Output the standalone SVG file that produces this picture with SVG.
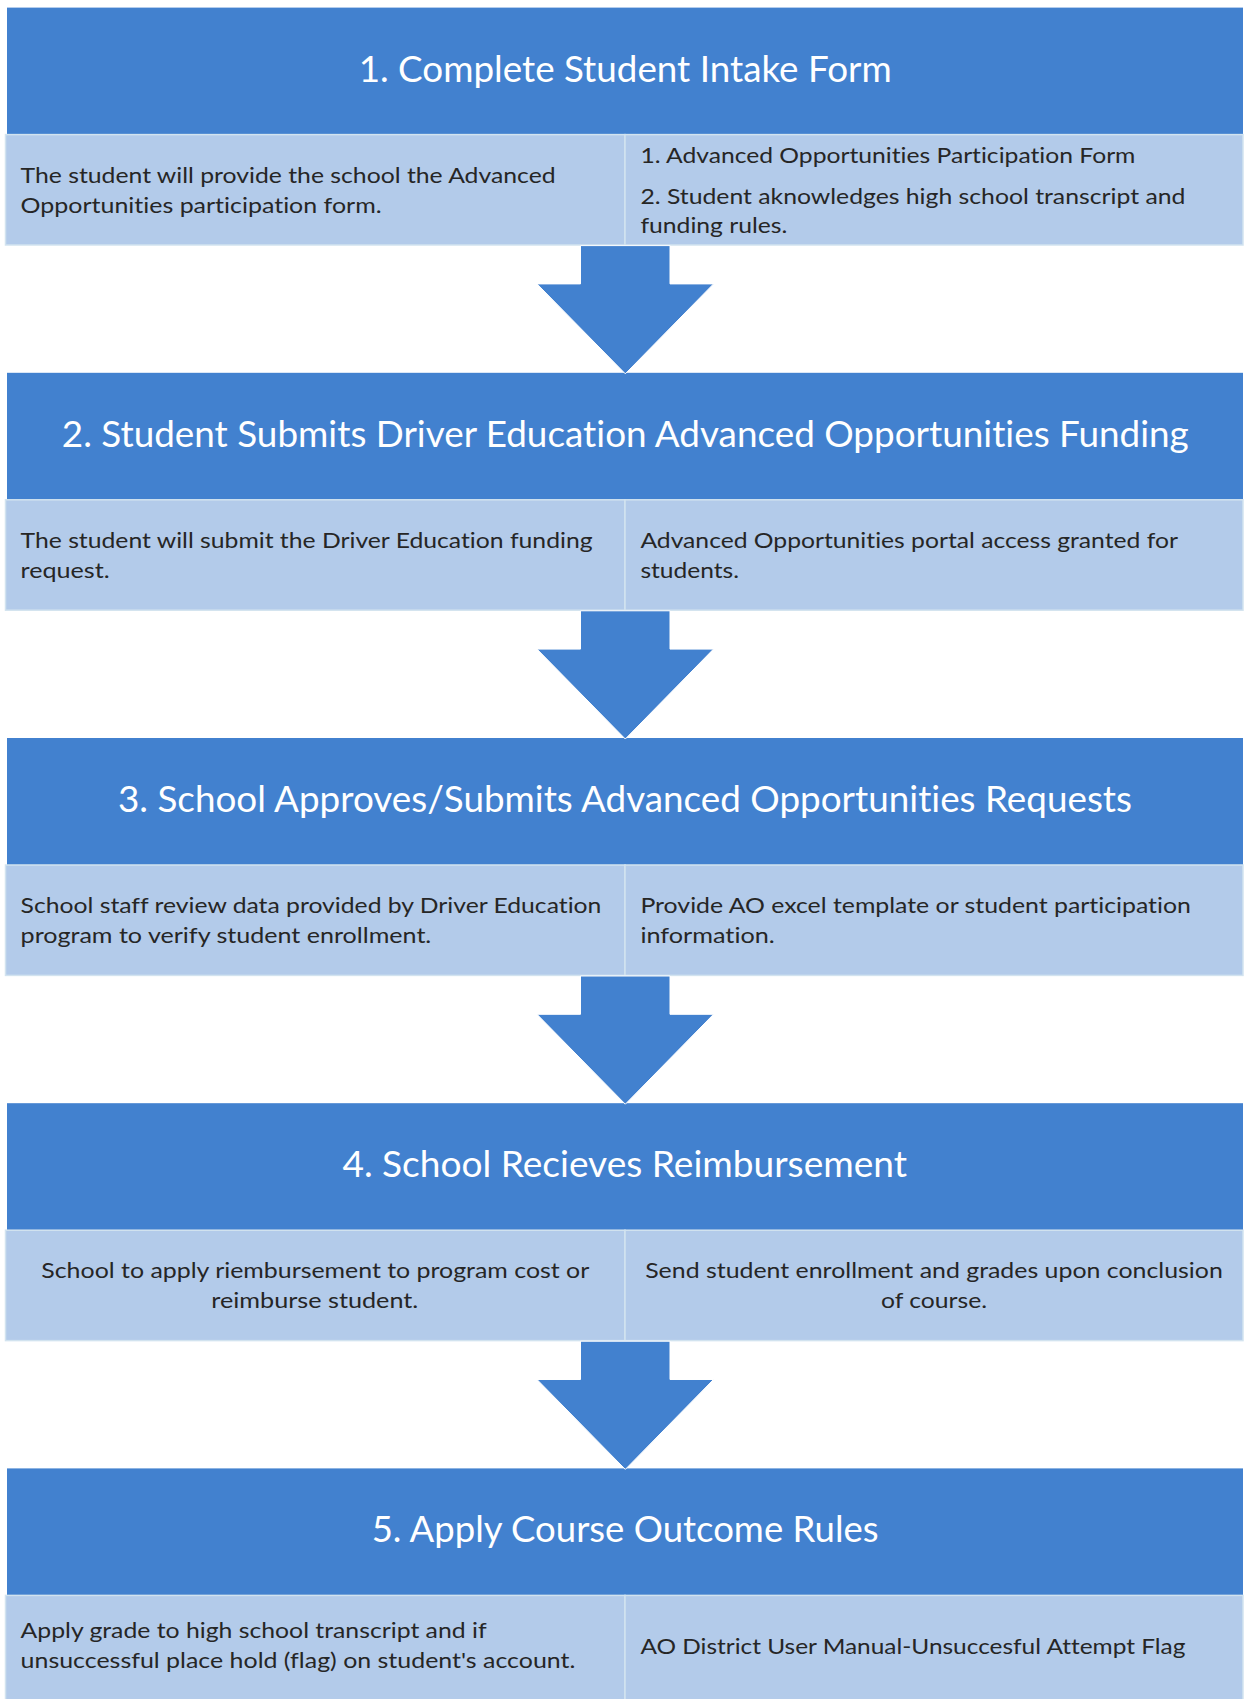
<svg xmlns="http://www.w3.org/2000/svg" width="1245" height="1699" viewBox="0 0 1245 1699">
<style>
.hd{fill:#4281CF}
.cell{fill:#B3CBEA;stroke:#D2E3EF;stroke-width:1.5}
.ht{font-family:Lato,"Open Sans","Liberation Sans",sans-serif;font-size:36px;fill:#FFFFFF;font-variant-ligatures:none}
.bt{font-family:Lato,"Open Sans","Liberation Sans",sans-serif;font-size:22px;fill:#262626;font-variant-ligatures:none}
.mid{text-anchor:middle}
.arr{fill:#4281CF;stroke:#FFFFFF;stroke-width:1}
</style>
<rect width="1245" height="1699" fill="#FFFFFF"/>
<g id="step1">
<rect class="hd" x="7" y="7.6" width="1236" height="127"/>
<text class="ht" x="358.7" y="81.6" textLength="533" lengthAdjust="spacingAndGlyphs">1. Complete Student Intake Form</text>
<rect class="cell" x="5.5" y="134.6" width="619.5" height="110.4"/>
<rect class="cell" x="625" y="134.6" width="618" height="110.4"/>
<text class="bt" x="20.6" y="183" textLength="535" lengthAdjust="spacingAndGlyphs">The student will provide the school the Advanced</text>
<text class="bt" x="20.6" y="213" textLength="361" lengthAdjust="spacingAndGlyphs">Opportunities participation form.</text>
<text class="bt" x="640.4" y="162.5" textLength="495" lengthAdjust="spacingAndGlyphs">1. Advanced Opportunities Participation Form</text>
<text class="bt" x="640.4" y="203.5" textLength="545" lengthAdjust="spacingAndGlyphs">2. Student aknowledges high school transcript and</text>
<text class="bt" x="640.4" y="232.5" textLength="147" lengthAdjust="spacingAndGlyphs">funding rules.</text>
</g>
<g id="step2">
<rect class="hd" x="7" y="372.8" width="1236" height="127"/>
<text class="ht" x="61.8" y="446.8" textLength="1127" lengthAdjust="spacingAndGlyphs">2. Student Submits Driver Education Advanced Opportunities Funding</text>
<rect class="cell" x="5.5" y="499.8" width="619.5" height="110.4"/>
<rect class="cell" x="625" y="499.8" width="618" height="110.4"/>
<text class="bt" x="20.6" y="547.8" textLength="572" lengthAdjust="spacingAndGlyphs">The student will submit the Driver Education funding</text>
<text class="bt" x="20.6" y="577.8" textLength="89" lengthAdjust="spacingAndGlyphs">request.</text>
<text class="bt" x="640.4" y="547.8" textLength="537.5" lengthAdjust="spacingAndGlyphs">Advanced Opportunities portal access granted for</text>
<text class="bt" x="640.4" y="577.8" textLength="98.6" lengthAdjust="spacingAndGlyphs">students.</text>
</g>
<g id="step3">
<rect class="hd" x="7" y="738" width="1236" height="127"/>
<text class="ht" x="118" y="812" textLength="1014" lengthAdjust="spacingAndGlyphs">3. School Approves/Submits Advanced Opportunities Requests</text>
<rect class="cell" x="5.5" y="865" width="619.5" height="110.4"/>
<rect class="cell" x="625" y="865" width="618" height="110.4"/>
<text class="bt" x="20.6" y="913" textLength="580.8" lengthAdjust="spacingAndGlyphs">School staff review data provided by Driver Education</text>
<text class="bt" x="20.6" y="943" textLength="410.7" lengthAdjust="spacingAndGlyphs">program to verify student enrollment.</text>
<text class="bt" x="640.4" y="913" textLength="550.5" lengthAdjust="spacingAndGlyphs">Provide AO excel template or student participation</text>
<text class="bt" x="640.4" y="943" textLength="134.4" lengthAdjust="spacingAndGlyphs">information.</text>
</g>
<g id="step4">
<rect class="hd" x="7" y="1103.2" width="1236" height="127"/>
<text class="ht" x="342.4" y="1177.2" textLength="564.6" lengthAdjust="spacingAndGlyphs">4. School Recieves Reimbursement</text>
<rect class="cell" x="5.5" y="1230.2" width="619.5" height="110.4"/>
<rect class="cell" x="625" y="1230.2" width="618" height="110.4"/>
<text class="bt mid" x="315.3" y="1278" textLength="548" lengthAdjust="spacingAndGlyphs">School to apply riembursement to program cost or</text>
<text class="bt mid" x="314.8" y="1308" textLength="207" lengthAdjust="spacingAndGlyphs">reimburse student.</text>
<text class="bt mid" x="934" y="1278" textLength="577.6" lengthAdjust="spacingAndGlyphs">Send student enrollment and grades upon conclusion</text>
<text class="bt mid" x="934" y="1308" textLength="106" lengthAdjust="spacingAndGlyphs">of course.</text>
</g>
<g id="step5">
<rect class="hd" x="7" y="1468.4" width="1236" height="127"/>
<text class="ht" x="371.7" y="1542.4" textLength="507" lengthAdjust="spacingAndGlyphs">5. Apply Course Outcome Rules</text>
<rect class="cell" x="5.5" y="1595.4" width="619.5" height="130"/>
<rect class="cell" x="625" y="1595.4" width="618" height="130"/>
<text class="bt" x="20.6" y="1638.3" textLength="466" lengthAdjust="spacingAndGlyphs">Apply grade to high school transcript and if</text>
<text class="bt" x="20.6" y="1668.3" textLength="554.8" lengthAdjust="spacingAndGlyphs">unsuccessful place hold (flag) on student's account.</text>
<text class="bt" x="640.4" y="1653.5" textLength="545" lengthAdjust="spacingAndGlyphs">AO District User Manual-Unsuccesful Attempt Flag</text>
</g>
<g id="connectors">
<polygon class="arr" transform="translate(0,7.6)" points="580.5,238 670,238 670,276.3 713.5,276.3 625.3,366.2 537,276.3 580.5,276.3"/>
<polygon class="arr" transform="translate(0,372.8)" points="580.5,238 670,238 670,276.3 713.5,276.3 625.3,366.2 537,276.3 580.5,276.3"/>
<polygon class="arr" transform="translate(0,738)" points="580.5,238 670,238 670,276.3 713.5,276.3 625.3,366.2 537,276.3 580.5,276.3"/>
<polygon class="arr" transform="translate(0,1103.2)" points="580.5,238 670,238 670,276.3 713.5,276.3 625.3,366.2 537,276.3 580.5,276.3"/>
</g>
</svg>
